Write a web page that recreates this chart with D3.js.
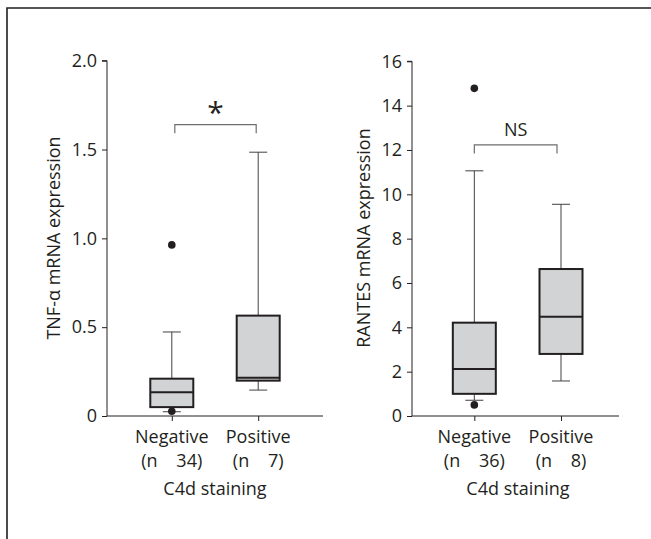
<!DOCTYPE html>
<html>
<head>
<meta charset="utf-8">
<script src="https://cdn.jsdelivr.net/npm/d3@7"></script>
<style>
  body { margin: 0; background: #fff; }
  text { font-family: "Open Sans", sans-serif; fill: #231f20; }
</style>
</head>
<body>
<div id="chart"></div>
<script>
// -- data
let groups = ['Negative', 'Positive']

let tnfN = ['(n    34)', '(n    7)']
let tnfLow = [0.024, 0.146]
let tnfQ1 = [0.05, 0.199]
let tnfMed = [0.133, 0.216]
let tnfQ3 = [0.21, 0.565]
let tnfHigh = [0.473, 1.485]
let tnfOutliers = [[0.027, 0.963], []]
let tnfTicks = [0, 0.5, 1.0, 1.5, 2.0]

let rantesN = ['(n    36)', '(n    8)']
let rantesLow = [0.71, 1.58]
let rantesQ1 = [1.0, 2.8]
let rantesMed = [2.12, 4.48]
let rantesQ3 = [4.21, 6.63]
let rantesHigh = [11.06, 9.55]
let rantesOutliers = [[0.5, 14.78], []]
let rantesTicks = [0, 2, 4, 6, 8, 10, 12, 14, 16]

let width = 651
let height = 539

let svg = d3.select('#chart').append('svg')
            .attr('width', width)
            .attr('height', height)

// frame, open to the right and bottom
svg.append('path')
   .attr('d', `M7,${height} V8 H${width}`)
   .attr('fill', 'none')
   .attr('stroke', '#231f20')
   .attr('stroke-width', 1.6)

function drawPanel(opt) {
  let g = svg.append('g')
  let x = d3.scalePoint().domain(groups).range(opt.xRange).padding(opt.pad).align(opt.align)
  let y = d3.scaleLinear().domain(opt.yDomain).range(opt.yRange)

  // -- axes
  let yAxis = d3.axisLeft(y).tickValues(opt.ticks).tickSize(5).tickPadding(5)
                .tickFormat(opt.fmt)
  let ya = g.append('g')
            .attr('transform', `translate(${opt.xRange[0]},0)`)
            .call(yAxis)
  ya.select('.domain').attr('d', `M-5,${y(opt.yDomain[1])}H0V${y(0)}`)

  let xAxis = d3.axisBottom(x).tickSize(5).tickFormat('')
  g.append('g')
   .attr('transform', `translate(0,${y(0)})`)
   .call(xAxis)
   .select('.domain').attr('d', `M${opt.xRange[0]},0H${opt.xRange[1]}`)

  g.selectAll('.domain, .tick line').attr('stroke', '#231f20').attr('stroke-width', 1)
  g.selectAll('.tick text').style('font-size', '18px').attr('fill', '#231f20')

  // -- boxes
  let bw = 43, cap = 18
  let idx = d3.range(groups.length)
  let box = g.selectAll('.box').data(idx).enter().append('g').attr('class', 'box')

  box.append('line')
     .attr('x1', i => x(groups[i])).attr('x2', i => x(groups[i]))
     .attr('y1', i => y(opt.high[i])).attr('y2', i => y(opt.low[i]))
     .attr('stroke', '#414042').attr('stroke-width', 1)
  box.append('line')
     .attr('x1', i => x(groups[i]) - cap / 2).attr('x2', i => x(groups[i]) + cap / 2)
     .attr('y1', i => y(opt.high[i])).attr('y2', i => y(opt.high[i]))
     .attr('stroke', '#414042').attr('stroke-width', 1)
  box.append('line')
     .attr('x1', i => x(groups[i]) - cap / 2).attr('x2', i => x(groups[i]) + cap / 2)
     .attr('y1', i => y(opt.low[i])).attr('y2', i => y(opt.low[i]))
     .attr('stroke', '#414042').attr('stroke-width', 1)
  box.append('rect')
     .attr('x', i => x(groups[i]) - bw / 2)
     .attr('y', i => y(opt.q3[i]))
     .attr('width', bw)
     .attr('height', i => y(opt.q1[i]) - y(opt.q3[i]))
     .attr('fill', '#d1d3d4')
     .attr('stroke', '#231f20')
     .attr('stroke-width', 2)
  box.append('line')
     .attr('x1', i => x(groups[i]) - bw / 2).attr('x2', i => x(groups[i]) + bw / 2)
     .attr('y1', i => y(opt.med[i])).attr('y2', i => y(opt.med[i]))
     .attr('stroke', '#231f20').attr('stroke-width', 2)

  let dots = []
  opt.outliers.forEach((arr, i) => arr.forEach(v => dots.push({ g: groups[i], v: v })))
  g.selectAll('.dot').data(dots).enter().append('circle')
   .attr('class', 'dot')
   .attr('cx', d => x(d.g))
   .attr('cy', d => y(d.v))
   .attr('r', 3.8)
   .attr('fill', '#231f20')

  // -- significance bracket
  let bx0 = x(groups[0]) + opt.brInset[0], bx1 = x(groups[1]) - opt.brInset[1]
  let by = y(opt.brY)
  g.append('path')
   .attr('d', `M${bx0},${by + 8.5}V${by}H${bx1}V${by + 8.5}`)
   .attr('fill', 'none')
   .attr('stroke', '#6d6e71')
   .attr('stroke-width', 1.2)
  g.append('text')
   .attr('x', (bx0 + bx1) / 2)
   .attr('y', by + opt.sigDy)
   .attr('text-anchor', 'middle')
   .style('font-size', opt.sigSize + 'px')
   .text(opt.sig)

  // -- category labels
  let lab = g.selectAll('.lab').data(idx).enter().append('text')
             .attr('class', 'lab')
             .attr('x', i => x(groups[i]))
             .attr('y', y(0) + 27)
             .attr('text-anchor', 'middle')
             .style('font-size', '18px')
  lab.append('tspan').text(i => groups[i])
  lab.append('tspan')
     .attr('x', i => x(groups[i]))
     .attr('dy', 23.5)
     .style('white-space', 'pre')
     .text(i => opt.nLabels[i])

  g.append('text')
   .attr('x', opt.titleX)
   .attr('y', y(0) + 79)
   .attr('text-anchor', 'middle')
   .style('font-size', '18px')
   .text('C4d staining')

  g.append('text')
   .attr('transform', `translate(${opt.yLabelX},238) rotate(-90)`)
   .attr('text-anchor', 'middle')
   .style('font-size', '18px')
   .text(opt.yLabel)
}

drawPanel({
  xRange: [107, 323], pad: 0.75, align: 0.5,
  yDomain: [0, 2], yRange: [416, 60.7],
  ticks: tnfTicks, fmt: d => d === 0 ? '0' : d3.format('.1f')(d),
  low: tnfLow, q1: tnfQ1, med: tnfMed, q3: tnfQ3, high: tnfHigh, outliers: tnfOutliers,
  nLabels: tnfN, brY: 1.64, brInset: [3, 2], sig: '*', sigSize: 30, sigDy: -2,
  titleX: 215, yLabelX: 60, yLabel: 'TNF-\u03b1 mRNA expression'
})

drawPanel({
  xRange: [412, 619], pad: 0.694, align: 0.518,
  yDomain: [0, 16], yRange: [416, 61.3],
  ticks: rantesTicks, fmt: d3.format('d'),
  low: rantesLow, q1: rantesQ1, med: rantesMed, q3: rantesQ3, high: rantesHigh, outliers: rantesOutliers,
  nLabels: rantesN, brY: 12.23, brInset: [0, 4], sig: 'NS', sigSize: 18, sigDy: -9,
  titleX: 518, yLabelX: 370, yLabel: 'RANTES mRNA expression'
})
</script>
</body>
</html>
